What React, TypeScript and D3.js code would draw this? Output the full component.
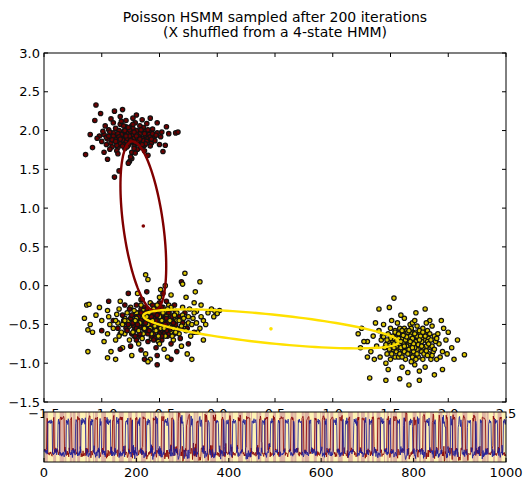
import React, { useEffect, useRef } from 'react';
import * as d3 from 'd3';

const W = 523;
const H = 479;

const titleLines = ['Poisson HSMM sampled after 200 iterations', '(X shuffled from a 4-state HMM)'];
const xTicks = [-1.5, -1.0, -0.5, 0.0, 0.5, 1.0, 1.5, 2.0, 2.5];
const yTicks = [-1.5, -1.0, -0.5, 0.0, 0.5, 1.0, 1.5, 2.0, 2.5, 3.0];
const tTicks = [0, 200, 400, 600, 800, 1000];

// upper cluster (red state), flat x,y pairs
const upperPts = [
  -0.75, 1.92, -0.70, 1.88, -0.80, 1.95, -0.68, 1.99, -0.85, 1.86, -0.62, 1.93, -0.78, 2.02, -0.72, 1.80, -0.90, 1.97, -0.66, 1.85,
  -0.83, 1.91, -0.58, 1.98, -0.74, 2.06, -0.95, 1.89, -0.69, 1.76, -0.81, 1.82, -0.60, 1.88, -0.77, 1.97, -0.88, 2.03, -0.64, 2.04,
  -0.73, 1.94, -0.86, 1.78, -0.55, 1.91, -0.79, 1.87, -0.92, 1.84, -0.67, 1.96, -0.71, 2.10, -0.84, 2.08, -0.63, 1.81, -0.98, 1.95,
  -0.76, 1.84, -0.57, 1.84, -0.89, 1.92, -0.70, 2.00, -0.81, 1.99, -0.52, 1.97, -0.94, 2.01, -0.65, 1.90, -0.87, 1.74, -0.74, 1.72,
  -0.61, 2.09, -0.79, 2.13, -1.00, 1.86, -0.69, 1.83, -0.83, 1.95, -0.56, 2.02, -0.91, 1.79, -0.75, 1.99, -0.66, 1.78, -0.85, 2.00,
  -0.72, 1.90, -0.59, 1.95, -0.96, 1.82, -0.80, 1.77, -0.68, 1.92, -0.77, 1.81, -0.62, 1.99, -0.88, 1.89, -0.73, 2.03, -0.54, 1.87,
  -1.02, 1.93, -0.86, 1.96, -0.64, 1.87, -0.78, 1.90, -0.70, 1.95, -0.93, 1.76, -0.82, 1.88, -0.58, 1.80, -0.74, 1.86, -0.67, 2.06,
  -0.49, 1.92, -0.97, 2.06, -0.84, 1.83, -0.71, 1.71, -0.60, 1.90, -0.79, 2.05, -0.90, 1.93, -0.63, 1.96, -0.76, 1.93, -0.87, 1.81,
  -1.14, 1.69, -1.05, 2.33, -0.89, 2.25, -0.82, 2.27, -0.36, 1.97, -0.34, 1.98, -0.89, 1.40, -0.85, 1.48, -1.08, 1.78, -0.45, 1.81,
  -0.44, 2.05, -1.06, 2.13, -0.70, 2.20, -0.58, 2.16, -0.95, 1.63, -0.60, 1.68, -0.76, 1.60, -0.47, 1.73, -1.01, 2.22, -0.52, 2.10,
  -0.74, 1.64, -0.92, 2.15, -0.69, 1.90, -0.77, 1.58, -0.65, 2.14, -1.04, 1.90, -0.72, 1.98, -0.98, 1.72, -0.61, 1.86, -0.84, 2.18,
  -0.71, 1.85, -0.50, 1.82, -0.66, 2.01, -0.91, 1.88, -0.75, 1.66, -0.58, 1.92, -0.83, 2.12, -0.42, 1.96, -0.93, 1.98, -0.63, 1.74,
  -0.79, 1.93, -0.86, 1.70, -0.73, 2.16, -0.56, 1.96, -0.81, 2.06, -0.68, 1.87, -1.10, 1.95, -0.76, 2.01, -0.48, 1.98, -0.96, 1.91,
  -0.70, 1.93, -0.85, 1.92, -0.62, 1.83, -0.78, 1.79, -0.73, 2.08, -0.88, 1.86, -0.53, 1.94, -0.82, 1.80, -0.67, 1.89, -0.99, 1.99,
  -0.75, 1.87, -0.60, 2.01, -0.90, 2.10, -0.72, 1.77, -0.80, 2.00, -0.65, 1.82, -0.94, 1.93, -0.57, 1.89, -0.84, 1.89, -0.77, 2.04,
];

// lower-left cluster, points given to the yellow state
const leftYellowPts = [
  -0.55, -0.45, -0.40, -0.38, -0.70, -0.50, -0.62, -0.30, -0.35, -0.55, -0.80, -0.42, -0.48, -0.60, -0.25, -0.40, -0.90, -0.55, -0.58, -0.22,
  -0.30, -0.28, -0.72, -0.65, -0.45, -0.48, -1.00, -0.45, -0.18, -0.33, -0.65, -0.40, -0.85, -0.30, -0.38, -0.70, -0.52, -0.35, -0.95, -0.62,
  -0.12, -0.45, -0.75, -0.28, -0.42, -0.25, -0.60, -0.58, -0.28, -0.50, -1.05, -0.38, -0.68, -0.75, -0.20, -0.22, -0.88, -0.70, -0.50, -0.15,
  -0.33, -0.62, -0.78, -0.55, -0.15, -0.55, -0.57, -0.68, -0.95, -0.32, -0.40, -0.12, -0.66, -0.18, -0.08, -0.35, -0.82, -0.80, -0.46, -0.82,
  -1.10, -0.50, -0.23, -0.65, -0.70, -0.35, -0.36, -0.42, -0.92, -0.85, -0.53, -0.52, -0.05, -0.30, -0.62, -0.88, -0.27, -0.15, -1.15, -0.42,
  -0.44, -0.33, -0.86, -0.48, -0.17, -0.60, -0.74, -0.90, -0.31, -0.78, -0.98, -0.72, -0.49, -0.05, -0.10, -0.50, -0.64, -0.62, -0.84, -0.20,
  -0.37, -0.52, -0.56, -0.38, -0.21, -0.42, -1.08, -0.60, -0.77, -0.45, -0.43, -0.92, -0.02, -0.33, -0.60, 0.08, -0.30, 0.02, -0.88, -0.95,
  -0.69, -0.10, -0.14, -0.25, -0.51, -0.72, -1.02, -0.28, -0.35, -0.35, -0.80, -0.62, -0.26, -0.88, -0.58, -0.95, -0.12, -0.70, -0.94, -0.40,
  -1.12, -0.85, -0.45, 0.00, -0.03, -0.40, -0.71, -0.55, -0.39, -0.60, -0.63, -0.48, -0.19, -0.08, -0.87, -0.37, -0.47, -0.28, -1.13, -0.25,
  -0.60, -0.98, -0.95, -0.93, -1.12, -0.57, -1.11, -0.24, -0.28, 0.16, -0.62, 0.14, 0.02, -0.32, 0.00, -0.36, -0.15, 0.05, -0.22, -0.95,
  -0.50, -0.40, -0.62, -0.45, -0.42, -0.50, -0.70, -0.42, -0.35, -0.45, -0.58, -0.55, -0.47, -0.35, -0.76, -0.52, -0.30, -0.38, -0.64, -0.32,
  -0.53, -0.58, -0.40, -0.28, -0.82, -0.50, -0.45, -0.65, -0.60, -0.38, -0.25, -0.48, -0.73, -0.60, -0.55, -0.30, -0.38, -0.55, -0.67, -0.48,
  -0.48, -0.45, -0.20, -0.35, -0.78, -0.35, -0.57, -0.62, -0.33, -0.45, -0.88, -0.45, -0.44, -0.40, -0.63, -0.55, -0.27, -0.58, -0.52, -0.25,
  -0.71, -0.45, -0.39, -0.65, -0.60, -0.50, -0.14, -0.40, -0.83, -0.60, -0.49, -0.55, -0.66, -0.25, -0.31, -0.52, -0.56, -0.45, -0.76, -0.70,
  -0.43, -0.30, -0.22, -0.50, -0.68, -0.58, -0.36, -0.60, -0.93, -0.50, -0.51, -0.65, -0.59, -0.35, -0.46, -0.55, -0.72, -0.32, -0.29, -0.42,
  -0.65, -0.68, -0.41, -0.45, -0.54, -0.52, -0.80, -0.45, -0.18, -0.48, -0.61, -0.40, -0.37, -0.38, -0.85, -0.65, -0.50, -0.75, -0.24, -0.30,
];

// lower-left cluster, points given to the red state
const leftRedPts = [
  -0.60, -0.42, -0.50, -0.50, -0.68, -0.35, -0.45, -0.38, -0.72, -0.58, -0.38, -0.46, -0.55, -0.62, -0.63, -0.28, -0.42, -0.55, -0.78, -0.48,
  -0.52, -0.30, -0.33, -0.40, -0.66, -0.52, -0.48, -0.70, -0.58, -0.48, -0.82, -0.38, -0.40, -0.30, -0.70, -0.70, -0.46, -0.44, -0.62, -0.60,
  -0.35, -0.58, -0.54, -0.40, -0.76, -0.30, -0.43, -0.65, -0.64, -0.45, -0.50, -0.22, -0.86, -0.55, -0.30, -0.48, -0.57, -0.55, -0.69, -0.42,
  -0.40, -0.75, -0.61, -0.35, -0.47, -0.52, -0.74, -0.62, -0.36, -0.33, -0.53, -0.80, -0.80, -0.25, -0.44, -0.20, -0.67, -0.65, -0.56, -0.33,
  -0.26, -0.55, -0.72, -0.45, -0.49, -0.60, -0.60, -0.72, -0.39, -0.52, -0.90, -0.45, -0.65, -0.18, -0.32, -0.68, -0.55, -0.47, -0.75, -0.78,
  -0.45, -0.32, -0.62, -0.52, -0.84, -0.62, -0.52, -0.90, -0.70, -0.25, -0.35, -0.85, -0.59, -0.40, -0.28, -0.35, -0.47, -0.10, -0.66, -0.83,
  -1.00, -0.58, -0.77, -0.10, -0.40, -0.95, -0.56, -0.25, -0.20, -0.60, -0.63, -0.95, -0.84, -0.82, -0.31, 0.05, -0.94, -0.20, -0.52, -1.02,
  -0.70, -0.40, -0.42, -0.62, -0.58, -0.58, -0.48, -0.38, -0.66, -0.30, -0.54, -0.68, -0.37, -0.25, -0.79, -0.55, -0.61, -0.08, -0.25, -0.75,
  -0.55, -0.42, -0.65, -0.48, -0.47, -0.46, -0.58, -0.36, -0.72, -0.52, -0.41, -0.52, -0.62, -0.56, -0.50, -0.33, -0.68, -0.40, -0.36, -0.50,
  -0.53, -0.55, -0.60, -0.45, -0.44, -0.58, -0.75, -0.42, -0.57, -0.65, -0.49, -0.42, -0.64, -0.38, -0.39, -0.40, -0.70, -0.55, -0.52, -0.48,
  -0.61, -0.30, -0.46, -0.62, -0.58, -0.52, -0.67, -0.62, -0.34, -0.44, -0.54, -0.36, -0.78, -0.58, -0.43, -0.48, -0.63, -0.42, -0.51, -0.58,
  -0.59, -0.45, -0.48, -0.28, -0.73, -0.48, -0.40, -0.56, -0.66, -0.45, -0.55, -0.70, -0.45, -0.50, -0.62, -0.35, -0.81, -0.45, -0.37, -0.62,
  -0.57, -0.40, -0.69, -0.50, -0.50, -0.62, -0.42, -0.35, -0.64, -0.55, -0.53, -0.45, -0.74, -0.38, -0.47, -0.55, -0.60, -0.62, -0.31, -0.55,
  -0.56, -0.50, -0.66, -0.35, -0.44, -0.42, -0.71, -0.65, -0.52, -0.38, -0.59, -0.58, -0.38, -0.48, -0.77, -0.50, -0.48, -0.65, -0.62, -0.48,
];

// right cluster (yellow state)
const rightPts = [
  1.65, -0.72, 1.58, -0.65, 1.72, -0.78, 1.60, -0.82, 1.75, -0.62, 1.52, -0.72, 1.68, -0.58, 1.80, -0.70, 1.55, -0.85, 1.70, -0.90,
  1.62, -0.55, 1.85, -0.80, 1.48, -0.62, 1.66, -0.68, 1.77, -0.85, 1.57, -0.76, 1.73, -0.52, 1.45, -0.80, 1.88, -0.65, 1.63, -0.95,
  1.50, -0.55, 1.82, -0.58, 1.69, -0.75, 1.59, -0.60, 1.78, -0.95, 1.42, -0.70, 1.92, -0.75, 1.54, -0.92, 1.67, -0.50, 1.83, -0.88,
  1.61, -0.70, 1.74, -0.68, 1.47, -0.88, 1.95, -0.85, 1.56, -0.48, 1.71, -1.02, 1.40, -0.58, 1.86, -0.52, 1.64, -0.82, 1.79, -0.62,
  1.53, -0.68, 1.90, -0.95, 1.38, -0.78, 1.68, -0.62, 1.76, -0.75, 1.60, -1.05, 1.98, -0.70, 1.50, -0.95, 1.84, -0.45, 1.44, -0.50,
  1.66, -0.88, 1.72, -0.60, 1.58, -0.55, 1.81, -0.78, 1.35, -0.65, 2.00, -0.60, 1.62, -0.42, 1.74, -0.92, 1.49, -0.75, 1.89, -0.72,
  1.56, -0.80, 1.70, -0.70, 1.64, -0.58, 1.77, -0.68, 1.46, -1.00, 1.93, -0.92, 1.33, -0.85, 1.80, -1.05, 1.59, -0.38, 1.69, -0.48,
  1.52, -0.82, 1.83, -0.68, 1.37, -0.48, 1.96, -0.55, 1.65, -1.12, 1.73, -0.82, 1.41, -0.92, 1.87, -0.85, 1.55, -0.62, 1.61, -0.78,
  1.78, -0.55, 1.30, -0.72, 2.03, -0.80, 1.68, -0.98, 1.51, -0.45, 1.91, -0.62, 1.43, -0.65, 1.75, -1.10, 1.63, -0.65, 1.85, -0.95,
  1.57, -0.92, 1.71, -0.45, 1.36, -0.95, 1.94, -0.45, 1.67, -0.78, 1.48, -1.08, 1.81, -0.48, 1.60, -0.88, 1.99, -0.88, 1.54, -0.58,
  2.14, -0.89, 1.53, -0.16, 1.66, -1.28, 1.32, -1.19, 1.25, -0.55, 1.27, -0.72, 2.08, -0.70, 1.40, -0.30, 1.72, -0.35, 1.88, -1.15,
  1.22, -0.62, 1.46, -1.22, 1.95, -1.08, 2.05, -0.95, 1.58, -1.20, 1.30, -0.92, 1.80, -0.30, 1.49, -0.28, 1.24, -0.80, 1.75, -1.22,
  1.66, -0.75, 1.60, -0.68, 1.72, -0.72, 1.55, -0.78, 1.78, -0.80, 1.63, -0.62, 1.70, -0.85, 1.52, -0.65, 1.82, -0.72, 1.58, -0.88,
  1.67, -0.65, 1.75, -0.58, 1.48, -0.72, 1.64, -0.78, 1.80, -0.65, 1.56, -0.70, 1.71, -0.80, 1.60, -0.58, 1.86, -0.78, 1.53, -0.80,
  1.69, -0.68, 1.62, -0.85, 1.77, -0.72, 1.50, -0.68, 1.73, -0.65, 1.58, -0.75, 1.84, -0.62, 1.65, -0.88, 1.46, -0.76, 1.79, -0.88,
  1.68, -0.55, 1.61, -0.74, 1.74, -0.76, 1.54, -0.60, 1.88, -0.82, 1.66, -0.82, 1.57, -0.68, 1.71, -0.62, 1.82, -0.90, 1.51, -0.88,
  1.63, -0.70, 1.76, -0.65, 1.59, -0.80, 1.69, -0.92, 1.44, -0.66, 1.83, -0.75, 1.65, -0.60, 1.73, -0.88, 1.55, -0.72, 1.90, -0.68,
  1.62, -0.78, 1.70, -0.75, 1.49, -0.82, 1.78, -0.60, 1.60, -0.92, 1.67, -0.72, 1.81, -0.84, 1.57, -0.62, 1.75, -0.70, 1.64, -0.66,
  1.53, -0.75, 1.72, -0.95, 1.85, -0.70, 1.61, -0.64, 1.69, -0.80, 1.47, -0.70, 1.77, -0.78, 1.59, -0.72, 1.86, -0.90, 1.66, -0.58,
];

// which cluster each pair of time steps came from (A upper, B left/yellow, D left/red, C right)
const seqRows = [
  'BDDACCCCCBADDBBCCAAAAABDCCCBAABDDDCCAAABCCCCCDBBAA',
  'CCCDBAAABBCCDDDAACCCCCBBAADBCCCAAAADBBCCCDDAACBBBA',
  'ACCCBDDAAABCCCCDBBAAACCDBBBAAACCCCCDDBAACBBDDAAACC',
  'CBBDAAAACCCBDDBAACCCCDBBAAACCBDDDAAACCCBBBAACDDCCC',
  'AABDCCCCBBAAADDCCCBAAAABDCCCCCDDBAABCCCAAADBBCCCAA',
  'DBBCCAAAADDCCCCBBAAACDDBBCCCCAABDDAAACCBBBDAACCCCD',
  'BAAACCDDBBAAACCCCBDDAAACBBCCCAADDDBCCCCAABBDAAACCB',
  'DDCCCAABBBDAAACCCCDBBAACCDDBAAAACCCBBDDCAAABBCCCCD',
  'AAABCCDDBBAAACCCCBDDAACCBBBAADDCCCCAABDBCCAAADDBCC',
  'CCBAAADDCCCCBBAAACDDBBCCAAAABDDCCCBBAACCCDDAABBCCC',
];
const STEPS_PER_LETTER = 2;

// fitted ellipses: center x, center y, major axis dx, dy, minor axis dx, dy
const redEllipse = [-0.64, 0.77, -0.10, 1.09, 0.171, 0.035];
const yellowEllipse = [0.465, -0.557, 1.106, -0.170, -0.013, -0.185];

const RED = '#6e0000';
const YELLOW = '#dcc600';

const pairs = (a: number[]) => d3.range(0, a.length, 2).map(i => [a[i], a[i + 1]] as [number, number]);

const App: React.FC = () => {
  const svgRef = useRef<SVGSVGElement>(null);

  useEffect(() => {
    if (!svgRef.current) return;
    const svg = d3.select(svgRef.current);
    svg.selectAll('*').remove();

    const font = 'DejaVu Sans, sans-serif';
    const m = { left: 44, right: 506, top: 53, bottom: 402 };
    const s = { top: 412, bottom: 462 };

    const x = d3.scaleLinear().domain([-1.5, 2.5]).range([m.left, m.right]);
    const y = d3.scaleLinear().domain([-1.5, 3.0]).range([m.bottom, m.top]);
    const fmt = d3.format('.1f');

    const pools: Record<string, [number, number][]> = {
      A: pairs(upperPts),
      B: pairs(leftYellowPts),
      D: pairs(leftRedPts),
      C: pairs(rightPts),
    };
    const isRed = (k: string) => k === 'A' || k === 'D';

    // title
    titleLines.forEach((t, i) => {
      svg.append('text')
        .attr('x', (m.left + m.right) / 2)
        .attr('y', 22 + i * 15)
        .attr('text-anchor', 'middle')
        .style('font-family', font)
        .style('font-size', '14px')
        .text(t);
    });

    // scatter: left cluster states interleaved so both show through
    const scatter: { p: [number, number]; k: string }[] = [];
    pools.C.forEach(p => scatter.push({ p, k: 'C' }));
    pools.A.forEach(p => scatter.push({ p, k: 'A' }));
    d3.range(Math.max(pools.B.length, pools.D.length)).forEach(i => {
      if (pools.D[i]) scatter.push({ p: pools.D[i], k: 'D' });
      if (pools.B[i]) scatter.push({ p: pools.B[i], k: 'B' });
    });

    const main = svg.append('g');
    main.selectAll('circle.pt')
      .data(scatter)
      .enter().append('circle')
      .attr('class', 'pt')
      .attr('cx', d => x(d.p[0]))
      .attr('cy', d => y(d.p[1]))
      .attr('r', 2.2)
      .style('fill', d => (isRed(d.k) ? RED : YELLOW))
      .style('stroke', '#111')
      .style('stroke-width', 1.2);

    // ellipses
    const drawEllipse = (e: number[], color: string) => {
      const pts = d3.range(0, 361, 3).map(a => {
        const t = (a * Math.PI) / 180;
        return [e[0] + e[2] * Math.cos(t) + e[4] * Math.sin(t), e[1] + e[3] * Math.cos(t) + e[5] * Math.sin(t)];
      });
      main.append('path')
        .attr('d', d3.line().x(d => x(d[0])).y(d => y(d[1]))(pts as [number, number][]))
        .style('fill', 'none')
        .style('stroke', color)
        .style('stroke-width', 2.4);
      main.append('circle')
        .attr('cx', x(e[0]))
        .attr('cy', y(e[1]))
        .attr('r', 1.8)
        .style('fill', color);
    };
    drawEllipse(redEllipse, '#800000');
    drawEllipse(yellowEllipse, '#ffe100');

    // frame + ticks
    svg.append('rect')
      .attr('x', m.left).attr('y', m.top)
      .attr('width', m.right - m.left).attr('height', m.bottom - m.top)
      .style('fill', 'none').style('stroke', '#000').style('stroke-width', 1);

    xTicks.forEach(v => {
      svg.append('line').attr('x1', x(v)).attr('x2', x(v)).attr('y1', m.bottom).attr('y2', m.bottom - 4).style('stroke', '#000');
      svg.append('line').attr('x1', x(v)).attr('x2', x(v)).attr('y1', m.top).attr('y2', m.top + 4).style('stroke', '#000');
      svg.append('text')
        .attr('x', x(v)).attr('y', m.bottom + 16)
        .attr('text-anchor', 'middle')
        .style('font-family', font).style('font-size', '13px')
        .text(fmt(v));
    });
    yTicks.forEach(v => {
      svg.append('line').attr('x1', m.left).attr('x2', m.left + 4).attr('y1', y(v)).attr('y2', y(v)).style('stroke', '#000');
      svg.append('line').attr('x1', m.right).attr('x2', m.right - 4).attr('y1', y(v)).attr('y2', y(v)).style('stroke', '#000');
      svg.append('text')
        .attr('x', m.left - 4).attr('y', y(v)).attr('dy', '0.36em')
        .attr('text-anchor', 'end')
        .style('font-family', font).style('font-size', '13px')
        .text(fmt(v));
    });

    // bottom strip: state sequence and data over time
    const seq = seqRows.join('').split('').flatMap(k => Array(STEPS_PER_LETTER).fill(k) as string[]);
    const used: Record<string, number> = { A: 0, B: 0, C: 0, D: 0 };
    const series = seq.map(k => {
      const pool = pools[k];
      const p = pool[used[k] % pool.length];
      used[k] += 1;
      return { k, p };
    });
    const n = series.length;
    const tx = d3.scaleLinear().domain([0, 1000]).range([m.left, m.right]);
    const step = 1000 / n;
    const ext = d3.extent(series.flatMap(d => d.p)) as [number, number];
    const ty = d3.scaleLinear().domain([ext[0] - 0.05, ext[1] + 0.05]).range([s.bottom, s.top]);

    const strip = svg.append('g');
    strip.append('rect')
      .attr('x', m.left).attr('y', s.top)
      .attr('width', m.right - m.left).attr('height', s.bottom - s.top)
      .style('fill', '#fff3b5');
    strip.selectAll('rect.band')
      .data(series.map((d, i) => ({ ...d, i })).filter(d => isRed(d.k)))
      .enter().append('rect')
      .attr('class', 'band')
      .attr('x', d => tx(d.i * step))
      .attr('y', s.top)
      .attr('width', tx(step) - tx(0) + 0.05)
      .attr('height', s.bottom - s.top)
      .style('fill', '#d6a2a0');

    const lineFor = (dim: number) => d3.line<{ k: string; p: [number, number] }>()
      .x((_, i) => tx(i * step + step / 2))
      .y(d => ty(d.p[dim]));
    strip.append('path')
      .attr('d', lineFor(1)(series))
      .style('fill', 'none').style('stroke', '#8a0000').style('stroke-width', 0.9).style('opacity', 0.9);
    strip.append('path')
      .attr('d', lineFor(0)(series))
      .style('fill', 'none').style('stroke', '#1a1a96').style('stroke-width', 0.9).style('opacity', 0.9);

    strip.append('rect')
      .attr('x', m.left).attr('y', s.top)
      .attr('width', m.right - m.left).attr('height', s.bottom - s.top)
      .style('fill', 'none').style('stroke', '#000').style('stroke-width', 1);

    tTicks.forEach(v => {
      strip.append('line').attr('x1', tx(v)).attr('x2', tx(v)).attr('y1', s.bottom).attr('y2', s.bottom - 4).style('stroke', '#000');
      strip.append('text')
        .attr('x', tx(v)).attr('y', s.bottom + 15)
        .attr('text-anchor', 'middle')
        .style('font-family', font).style('font-size', '13px')
        .text(String(v));
    });
  }, []);

  return (
    <div style={{ position: 'absolute', left: 0, top: 0, background: '#fff' }}>
      <svg ref={svgRef} width={W} height={H}></svg>
    </div>
  );
};

export default App;
